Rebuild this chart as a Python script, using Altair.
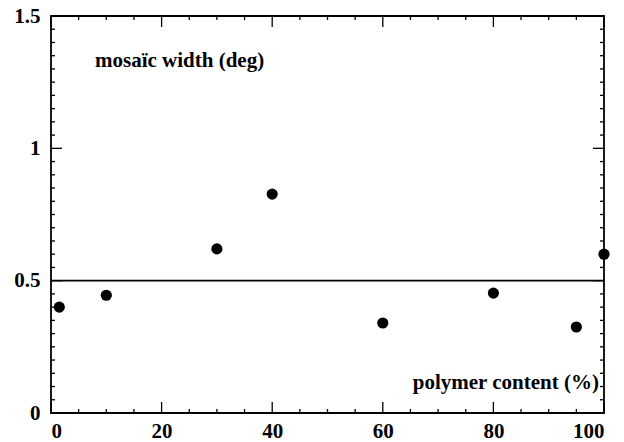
import altair as alt
import pandas as pd

# Data
polymer_content = [1.5, 10, 30, 40, 60, 80, 95, 100]
mosaic_width = [0.40, 0.445, 0.62, 0.827, 0.34, 0.453, 0.325, 0.60]
reference_level = [0.5]

x_major = [0, 20, 40, 60, 80, 100]
x_minor = [5, 10, 15, 25, 30, 35, 45, 50, 55, 65, 70, 75, 85, 90, 95]
y_major = [0, 0.5, 1.0, 1.5]
y_minor = [0.05, 0.1, 0.15, 0.2, 0.25, 0.3, 0.35, 0.4, 0.45,
           0.55, 0.6, 0.65, 0.7, 0.75, 0.8, 0.85, 0.9, 0.95,
           1.05, 1.1, 1.15, 1.2, 1.25, 1.3, 1.35, 1.4, 1.45]

W, H = 553, 397
FONT = "Liberation Serif"
MAJ, MIN = 11, 4

xs = alt.Scale(domain=[0, 100], nice=False, zero=False)
ys = alt.Scale(domain=[0, 1.5], nice=False, zero=False)

df = pd.DataFrame({"x": polymer_content, "y": mosaic_width})

xaxis = alt.Axis(values=x_major, ticks=False, domain=False, grid=False, title=None,
                 labelFont=FONT, labelFontWeight="bold", labelFontSize=21,
                 labelColor="black", labelPadding=7, format="d")
yaxis = alt.Axis(values=y_major, ticks=False, domain=False, grid=False, title=None,
                 labelFont=FONT, labelFontWeight="bold", labelFontSize=21,
                 labelColor="black", labelPadding=11,
                 labelExpr="datum.value == 0 ? '0' : datum.value == 1 ? '1' : format(datum.value, '.1f')")

points = alt.Chart(df).mark_circle(size=125, color="black", opacity=1).encode(
    x=alt.X("x:Q", scale=xs, axis=xaxis),
    y=alt.Y("y:Q", scale=ys, axis=yaxis),
)

hline = alt.Chart(pd.DataFrame({"y": reference_level})).mark_rule(
    color="black", strokeWidth=1.8
).encode(y=alt.Y("y:Q", scale=ys))

def xticks(vals, length):
    d = pd.DataFrame({"x": vals})
    bottom = alt.Chart(d).mark_rule(color="black", strokeWidth=1.3).encode(
        x=alt.X("x:Q", scale=xs), y=alt.value(H), y2=alt.value(H - length))
    top = alt.Chart(d).mark_rule(color="black", strokeWidth=1.3).encode(
        x=alt.X("x:Q", scale=xs), y=alt.value(0), y2=alt.value(length))
    return [bottom, top]

def yticks(vals, length):
    d = pd.DataFrame({"y": vals})
    left = alt.Chart(d).mark_rule(color="black", strokeWidth=1.3).encode(
        y=alt.Y("y:Q", scale=ys), x=alt.value(0), x2=alt.value(length))
    right = alt.Chart(d).mark_rule(color="black", strokeWidth=1.3).encode(
        y=alt.Y("y:Q", scale=ys), x=alt.value(W), x2=alt.value(W - length))
    return [left, right]

label_y = alt.Chart(pd.DataFrame({"t": ["mosaïc width (deg)"]})).mark_text(
    font=FONT, fontWeight="bold", fontSize=21, align="left", baseline="alphabetic", color="black"
).encode(x=alt.value(44), y=alt.value(51), text="t:N")

label_x = alt.Chart(pd.DataFrame({"t": ["polymer content (%)"]})).mark_text(
    font=FONT, fontWeight="bold", fontSize=21, align="right", baseline="alphabetic", color="black"
).encode(x=alt.value(548), y=alt.value(373), text="t:N")

layers = (xticks(x_major, MAJ) + xticks(x_minor, MIN) +
          yticks(y_major, MAJ) + yticks(y_minor, MIN) +
          [hline, points, label_y, label_x])

chart = alt.layer(*layers).properties(
    width=W, height=H,
    autosize=alt.AutoSizeParams(type="none"),
    padding={"left": 51, "top": 16, "right": 20, "bottom": 29},
    background="white",
).configure_view(stroke="black", strokeWidth=1.8)

chart.save("out.html", embed_options={"renderer": "svg", "actions": False})
